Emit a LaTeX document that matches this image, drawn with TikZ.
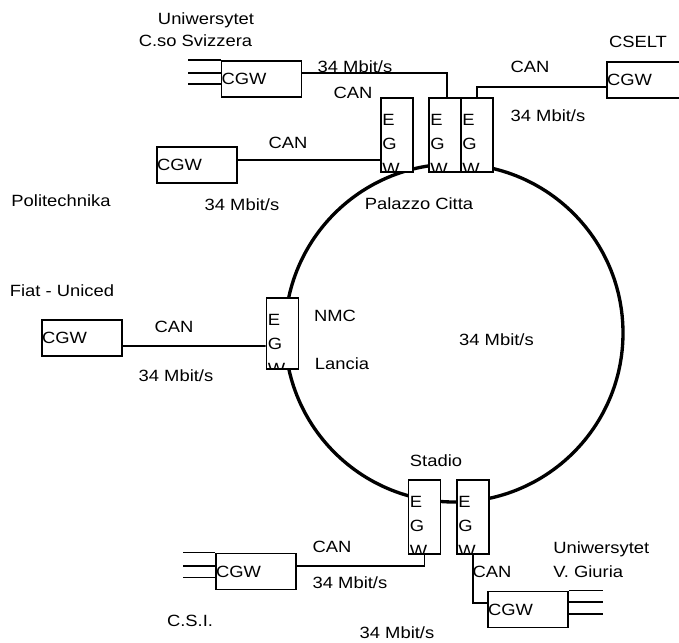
\documentclass[tikz,border=0pt]{standalone}
\usepackage{fontspec}
\setmainfont{Liberation Sans}[FakeStretch=1.13]
\begin{document}
\begin{tikzpicture}[x=0.75pt, y=-0.75pt,
  every node/.style={font=\fontsize{12.2}{14}\selectfont},
  lbl/.style={inner sep=0pt, text height=8.7pt, text depth=0pt},
  cgw/.style={draw, fill=white, line width=1.4pt, minimum height=27pt, text width=60pt, inner xsep=0pt, inner ysep=0pt, align=left},
  egwtext/.style={draw=none, fill=none, minimum width=0pt, minimum height=0pt, anchor=north west, inner xsep=0.4pt, inner ysep=0pt, yshift=-11.25pt, align=left, font=\fontsize{12.2}{18.4}\selectfont},
  egw/.style={draw, fill=white, line width=1.4pt, minimum width=24pt, minimum height=55.5pt, inner sep=0pt,
    path picture={\node[egwtext] at (path picture bounding box.north west) {E\\G\\W};}},
  conn/.style={line width=1.2pt},
  trunk/.style={line width=1.2pt},
  ring/.style={line width=2.5pt}]
				\useasboundingbox (0,0) rectangle (679,643);
				% backbone ring
				\coordinate (ringcentre) at (454,333);
				\draw[ring] (ringcentre) circle [radius=126.75pt];
				
				% gateways on the ring
				\node (egwP1) at (397,135) [egw] {};
				\node (egwP2) at (445,135) [egw] {};
				\node (egwP3) at (477,135) [egw] {};
				\node (egwLancia) at (282.5,333.5) [egw, minimum height=53.25pt] {};
				\node (egwS1) at (424.5,517) [egw] {};
				\node (egwS2) at (473,517) [egw] {};
				
				% customer gateways
				\node (cgwSvizzera) at (261.5,79) [cgw] {CGW};
				\node (cgwPolitechnika) at (197,165) [cgw] {CGW};
				\node (cgwCselt) at (647,80) [cgw] {CGW};
				\node (cgwFiat) at (82,338) [cgw] {CGW};
				\node (cgwCsi) at (256,571.5) [cgw] {CGW};
				\node (cgwGiuria) at (528,609.5) [cgw] {CGW};
				
				\draw[conn] ([yshift=4.5pt]cgwSvizzera.east) -| ([xshift=1.5pt]egwP2.north);
				\draw[conn] ([yshift=-5.25pt]cgwCselt.west) -| (egwP3.north);
				\draw[conn] ([yshift=3.75pt]cgwPolitechnika.east) -- ([yshift=-18.75pt]egwP1.west);
				\draw[conn] ([yshift=-6pt]cgwFiat.east) -- ([yshift=-9.4pt]egwLancia.west);
				\draw[conn] ([yshift=4.1pt]cgwCsi.east) -| (egwS1.south);
				\draw[conn] (egwS2.south) |- ([yshift=4.9pt]cgwGiuria.west);
				
				% trunk lines
				\foreach \dy in {0,9.5,18}
					\draw[trunk] ([yshift=-\dy pt]cgwSvizzera.north west) -- ++(-24.75pt,0);
				\foreach \dy in {0,10,18.75}
					\draw[trunk] ([yshift=-\dy pt]cgwCsi.north west) -- ++(-24pt,0);
				\foreach \dy in {0,8.7,17.5}
					\draw[trunk] ([yshift=-\dy pt]cgwGiuria.north east) -- ++(25.5pt,0);
				
				% labels
				\node (lblUniA) at (206,19) [lbl] {Uniwersytet};
				\node (lblSvizzera) at (195.5,41) [lbl] {C.so Svizzera};
				\node (lblMbitA) at (355,67) [lbl] {34 Mbit/s};
				\node (lblCanA) at (353,93) [lbl] {CAN};
				\node (lblCanB) at (288,142.5) [lbl] {CAN};
				\node (lblMbitB) at (242,204.5) [lbl] {34 Mbit/s};
				\node (lblPolitechnika) at (61,201) [lbl] {Politechnika};
				\node (lblPalazzo) at (419,204) [lbl] {Palazzo Citta};
				\node (lblCselt) at (638,42) [lbl] {CSELT};
				\node (lblCanC) at (530,67) [lbl] {CAN};
				\node (lblMbitC) at (548,116) [lbl] {34 Mbit/s};
				\node (lblFiat) at (62,291) [lbl] {Fiat - Uniced};
				\node (lblCanD) at (174,327) [lbl] {CAN};
				\node (lblMbitD) at (176,376) [lbl] {34 Mbit/s};
				\node (lblNmc) at (335,315.5) [lbl] {NMC};
				\node (lblLancia) at (342,363.5) [lbl] {Lancia};
				\node (lblMbitRing) at (496.5,340) [lbl] {34 Mbit/s};
				\node (lblStadio) at (436,461) [lbl] {Stadio};
				\node (lblCanE) at (332,547) [lbl] {CAN};
				\node (lblMbitE) at (350,583) [lbl] {34 Mbit/s};
				\node (lblCsi) at (190,621) [lbl] {C.S.I.};
				\node (lblMbitF) at (397,633) [lbl] {34 Mbit/s};
				\node (lblCanF) at (492,572) [lbl] {CAN};
				\node (lblUniB) at (553,548) [lbl, anchor=west] {Uniwersytet};
				\node (lblGiuria) at (553,572) [lbl, anchor=west] {V. Giuria};
			\end{tikzpicture}
\end{document}
